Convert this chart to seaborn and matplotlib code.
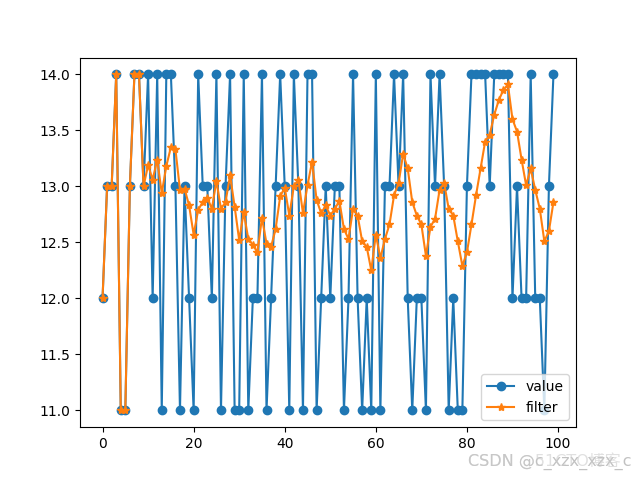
import matplotlib
matplotlib.use("Agg")
import matplotlib.pyplot as plt
import seaborn as sns
import numpy as np
import pandas as pd

value = [12, 13, 13, 14, 11, 11, 13, 14, 14, 13,
         14, 12, 14, 11, 14, 14, 13, 11, 13, 12,
         11, 14, 13, 13, 12, 14, 11, 13, 14, 11,
         11, 14, 11, 12, 12, 14, 11, 12, 13, 14,
         13, 11, 14, 13, 11, 14, 14, 11, 12, 13,
         12, 13, 13, 11, 12, 14, 12, 11, 12, 11,
         14, 11, 13, 13, 14, 13, 14, 12, 11, 12,
         12, 11, 14, 13, 14, 13, 11, 12, 11, 11,
         13, 14, 14, 14, 14, 13, 14, 14, 14, 14,
         12, 13, 12, 12, 14, 12, 12, 11, 13, 14]

filt = [12.0, 13.0, 13.0, 14.0, 11.0, 11.0, 13.0, 14.0, 14.0, 13.0,
        13.19, 13.06, 13.24, 12.94, 13.18, 13.35, 13.33, 12.97, 12.98, 12.83,
        12.57, 12.79, 12.86, 12.90, 12.80, 13.05, 12.80, 12.86, 13.10, 12.82,
        12.52, 12.77, 12.53, 12.48, 12.41, 12.72, 12.49, 12.46, 12.62, 12.91,
        12.99, 12.74, 13.00, 13.06, 12.76, 13.01, 13.22, 12.88, 12.76, 12.83,
        12.74, 12.80, 12.87, 12.62, 12.53, 12.80, 12.74, 12.51, 12.46, 12.25,
        12.57, 12.36, 12.53, 12.66, 12.92, 13.03, 13.29, 13.16, 12.86, 12.74,
        12.66, 12.38, 12.64, 12.71, 12.97, 13.03, 12.80, 12.74, 12.51, 12.29,
        12.41, 12.66, 12.92, 13.16, 13.40, 13.46, 13.64, 13.77, 13.86, 13.91,
        13.60, 13.49, 13.24, 13.01, 13.16, 12.97, 12.80, 12.51, 12.60, 12.86]

idx = list(range(len(value)))
df = pd.DataFrame({"idx": idx, "value": value, "filter": filt})

fig, ax = plt.subplots(figsize=(6.4, 4.8), dpi=100)
sns.lineplot(data=df, x="idx", y="value", ax=ax, marker="o", color="#1f77b4",
             markersize=6, markeredgecolor="#1f77b4", markeredgewidth=1,
             linewidth=1.5, label="value")
sns.lineplot(data=df, x="idx", y="filter", ax=ax, marker="*", color="#ff7f0e",
             markersize=6, markeredgecolor="#ff7f0e", markeredgewidth=1,
             linewidth=1.5, label="filter")
ax.set_xlabel("")
ax.set_ylabel("")
ax.legend(loc="lower right")

fig.text(0.731, 0.03, "CSDN @c_xzx_xzx_c", color="#bbbbbb", fontsize=11.5,
         family=["DejaVu Sans", "Noto Sans CJK SC"], alpha=0.9)
fig.text(0.731, 0.03, "CSDN @51CTO博客", color="#cccccc", fontsize=11.5,
         family=["DejaVu Sans", "Noto Sans CJK SC"], alpha=0.6)

fig.savefig("out.png", dpi=100)
